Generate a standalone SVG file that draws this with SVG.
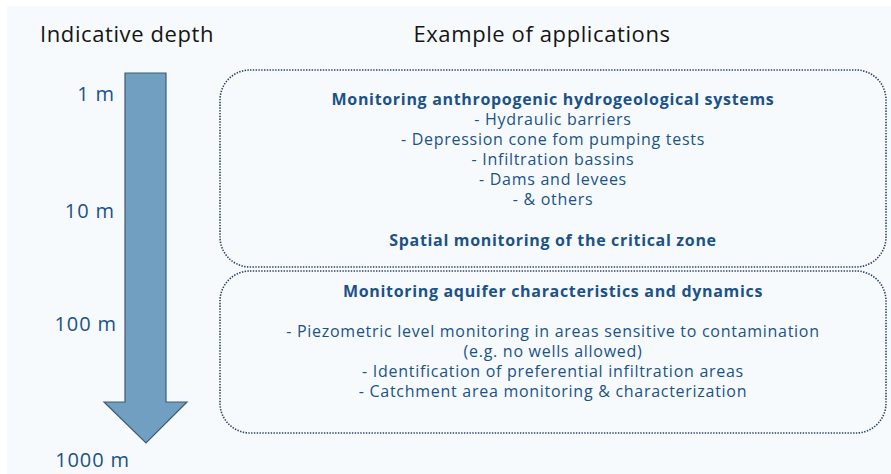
<svg xmlns="http://www.w3.org/2000/svg" width="891" height="474" viewBox="0 0 891 474">
<style>
.t{font-family:"Open Sans","Noto Sans",sans-serif;fill:#1c5287;font-size:16px;letter-spacing:0.72px;text-anchor:middle}
.b{font-weight:bold;letter-spacing:0.68px}
.h{font-family:"Open Sans","Noto Sans",sans-serif;fill:#151515;font-size:22px;letter-spacing:0.6px}
.d{font-family:"Open Sans","Noto Sans",sans-serif;fill:#1c5287;font-size:20px;letter-spacing:0.9px;text-anchor:end}
.box{fill:none;stroke:#2e4260;stroke-width:1.6;stroke-dasharray:1.4 1.4}
</style>
<rect x="0" y="0" width="891" height="474" fill="#ffffff"/>
<rect x="7" y="6" width="884" height="468" fill="#f6fafd"/>
<text class="h" x="40" y="42">Indicative depth</text>
<text class="h" x="542" y="42" text-anchor="middle">Example of applications</text>
<g id="arrow">
<path d="M125,73 H166 V402 H187 L146,443 L104,402 H125 Z" fill="#709fc1" stroke="#3f5b75" stroke-width="1.2"/>
</g>
<g id="depth-labels">
<text class="d" x="115" y="101">1 m</text>
<text class="d" x="115" y="218">10 m</text>
<text class="d" x="117" y="331">100 m</text>
<text class="d" x="130" y="467">1000 m</text>
</g>
<g id="box1">
<rect class="box" x="220" y="70" width="666" height="197" rx="30"/>
<text class="t b" x="553" y="105">Monitoring anthropogenic hydrogeological systems</text>
<text class="t" x="553" y="125">- Hydraulic barriers</text>
<text class="t" x="553" y="145">- Depression cone fom pumping tests</text>
<text class="t" x="553" y="165">- Infiltration bassins</text>
<text class="t" x="553" y="185">- Dams and levees</text>
<text class="t" x="553" y="205">- &amp; others</text>
<text class="t b" x="553" y="246">Spatial monitoring of the critical zone</text>
</g>
<g id="box2">
<rect class="box" x="220" y="271" width="666" height="162" rx="30"/>
<text class="t b" x="553" y="297">Monitoring aquifer characteristics and dynamics</text>
<text class="t" x="553" y="337">- Piezometric level monitoring in areas sensitive to contamination</text>
<text class="t" x="553" y="357">(e.g. no wells allowed)</text>
<text class="t" x="553" y="377">- Identification of preferential infiltration areas</text>
<text class="t" x="553" y="397">- Catchment area monitoring &amp; characterization</text>
</g>
</svg>
